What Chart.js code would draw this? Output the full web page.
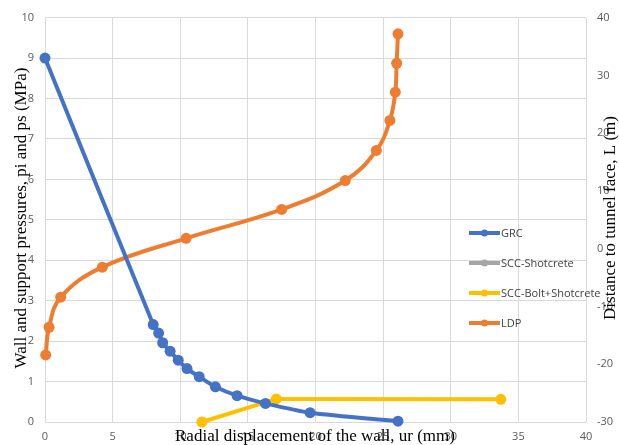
<!DOCTYPE html>
<html>
<head>
<meta charset="utf-8">
<script src="https://cdn.jsdelivr.net/npm/chart.js@4"></script>
<style>
  html, body { margin: 0; padding: 0; background: #fff; }
  #wrap { width: 619px; height: 445px; position: relative; }
</style>
</head>
<body>
<div id="wrap"><canvas id="chart" width="619" height="445"></canvas></div>
<script>
// GRC: radial displacement (mm) vs wall pressure (MPa)
const grcX = [0, 8.0, 8.4, 8.7, 9.25, 9.85, 10.5, 11.4, 12.6, 14.2, 16.3, 19.6, 26.1];
const grcY = [9, 2.41, 2.2, 1.96, 1.75, 1.53, 1.32, 1.12, 0.87, 0.65, 0.46, 0.23, 0.02];

// support characteristic curves
const sccShotX = [];
const sccShotY = [];
const sccBoltX = [11.6, 17.1, 33.7];
const sccBoltY = [0, 0.57, 0.56];

// LDP: radial displacement (mm) vs distance to tunnel face (m)
const ldpX = [0.05, 0.3, 1.16, 4.24, 10.43, 17.5, 22.2, 24.5, 25.5, 25.9, 26.0, 26.1];
const ldpY = [-18.4, -13.6, -8.4, -3.2, 1.8, 6.8, 11.8, 17.0, 22.2, 27.1, 32.1, 37.2];

const xTicks = [0, 5, 10, 15, 20, 25, 30, 35, 40];
const yTicks = [0, 1, 2, 3, 4, 5, 6, 7, 8, 9, 10];
const y2Ticks = [-30, -20, -10, 0, 10, 20, 30, 40];

const seriesNames = ["GRC", "SCC-Shotcrete", "SCC-Bolt+Shotcrete", "LDP"];
const seriesColors = ["#4472C4", "#A5A5A5", "#FFC000", "#ED7D31"];

const xTitle = "Radial displacement of the wall, ur (mm)";
const yTitle = "Wall and support pressures, pi and ps (MPa)";
const y2Title = "Distance to tunnel face, L (m)";

function toPoints(xs, ys) {
  return xs.map((x, i) => ({ x: x, y: ys[i] }));
}

function makeSeries(idx, xs, ys, axis, tension) {
  return {
    label: seriesNames[idx],
    data: toPoints(xs, ys),
    yAxisID: axis,
    showLine: true,
    clip: false,
    borderColor: seriesColors[idx],
    backgroundColor: seriesColors[idx],
    borderWidth: 4,
    pointRadius: 5.5,
    pointBorderWidth: 0,
    pointHoverRadius: 5.5,
    tension: tension,
  };
}

const tickFont = { family: "'Open Sans', 'Liberation Sans', sans-serif", size: 11 };
const tickColor = "#595959";
const gridColor = "#d9d9d9";

// titles and the in-plot legend are drawn by hand so they can overlap like the original
const overlayPlugin = {
  id: "overlay",
  afterDraw(chart) {
    const ctx = chart.ctx;
    ctx.save();

    ctx.fillStyle = "#000";
    ctx.font = "17px 'Liberation Serif', 'DejaVu Serif', serif";
    ctx.textAlign = "center";
    ctx.textBaseline = "middle";
    ctx.fillText(xTitle, 315, 437);

    ctx.save();
    ctx.translate(22, 218);
    ctx.rotate(-Math.PI / 2);
    ctx.fillText(yTitle, 0, 0);
    ctx.restore();

    ctx.save();
    ctx.translate(611, 218);
    ctx.rotate(-Math.PI / 2);
    ctx.fillText(y2Title, 0, 0);
    ctx.restore();

    // legend
    const legendX = 469;
    const legendY = [233, 263, 293, 323];
    ctx.font = "11px 'Open Sans', 'Liberation Sans', sans-serif";
    ctx.textAlign = "left";
    seriesNames.forEach((name, i) => {
      const y = legendY[i];
      ctx.strokeStyle = seriesColors[i];
      ctx.lineWidth = 4;
      ctx.beginPath();
      ctx.moveTo(legendX, y);
      ctx.lineTo(legendX + 31, y);
      ctx.stroke();
      ctx.fillStyle = seriesColors[i];
      ctx.beginPath();
      ctx.arc(legendX + 15.5, y, 3.5, 0, Math.PI * 2);
      ctx.fill();
      ctx.fillStyle = "#404040";
      ctx.fillText(name, legendX + 32, y + 1);
    });

    ctx.restore();
  },
};

function main() {
  const ctx = document.getElementById("chart");

  new Chart(ctx.getContext("2d"), {
    type: "scatter",
    data: {
      datasets: [
        makeSeries(0, grcX, grcY, "y", 0.25),
        makeSeries(1, sccShotX, sccShotY, "y", 0),
        makeSeries(2, sccBoltX, sccBoltY, "y", 0),
        makeSeries(3, ldpX, ldpY, "y2", 0.4),
      ],
    },
    options: {
      responsive: false,
      animation: false,
      layout: { padding: { top: 16, left: 0, right: 0, bottom: 0 } },
      plugins: {
        legend: { display: false },
        tooltip: { enabled: false },
      },
      scales: {
        x: {
          type: "linear",
          min: 0,
          max: 40,
          afterBuildTicks: (scale) => { scale.ticks = xTicks.map((v) => ({ value: v })); },
          afterFit: (scale) => { scale.height = 23; },
          grid: { color: gridColor, drawTicks: false },
          border: { display: false },
          ticks: { color: tickColor, font: tickFont, padding: 8, maxRotation: 0 },
        },
        y: {
          type: "linear",
          position: "left",
          min: 0,
          max: 10,
          afterBuildTicks: (scale) => { scale.ticks = yTicks.map((v) => ({ value: v })); },
          afterFit: (scale) => { scale.width = 45; },
          grid: { color: gridColor, drawTicks: false },
          border: { display: false },
          ticks: { color: tickColor, font: tickFont, padding: 11 },
        },
        y2: {
          type: "linear",
          position: "right",
          min: -30,
          max: 40,
          afterBuildTicks: (scale) => { scale.ticks = y2Ticks.map((v) => ({ value: v })); },
          afterFit: (scale) => { scale.width = 33; },
          grid: { drawOnChartArea: false, drawTicks: false },
          border: { display: false },
          ticks: { color: tickColor, font: tickFont, padding: 11 },
        },
      },
    },
    plugins: [overlayPlugin],
  });
}

document.addEventListener("DOMContentLoaded", main);
</script>
</body>
</html>
